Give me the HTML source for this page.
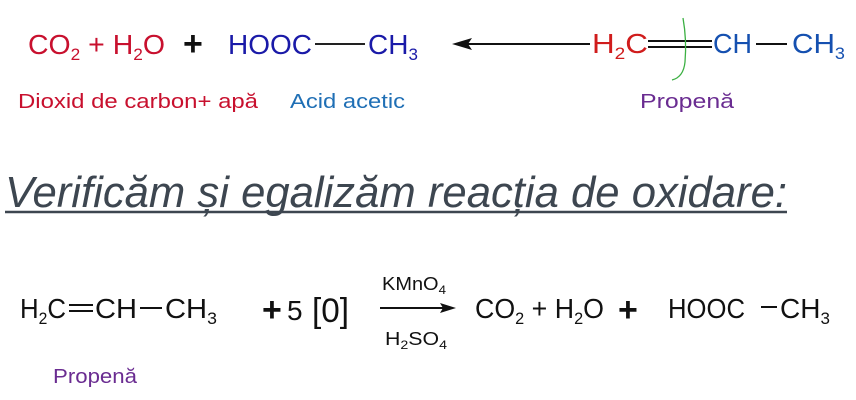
<!DOCTYPE html>
<html><head><meta charset="utf-8"><style>
html,body{margin:0;padding:0;background:#fff;}
svg{display:block;}
text{font-family:"Liberation Sans",sans-serif;}
.sub{font-size:17px;}
</style></head><body>
<svg width="856" height="400" viewBox="0 0 856 400" xmlns="http://www.w3.org/2000/svg">
<rect width="856" height="400" fill="#fff"/>
<!-- Top row -->
<text x="28" y="54" font-size="28" fill="#c8102e" textLength="137" lengthAdjust="spacingAndGlyphs">CO<tspan class="sub" dy="6">2</tspan><tspan dy="-6"> + H</tspan><tspan class="sub" dy="6">2</tspan><tspan dy="-6">O</tspan></text>
<text x="183" y="55" font-size="34" font-weight="bold" fill="#111">+</text>
<text x="228" y="54" font-size="28" fill="#1a1aa8" textLength="84" lengthAdjust="spacingAndGlyphs">HOOC</text>
<line x1="315" y1="44" x2="365" y2="44" stroke="#222" stroke-width="2"/>
<text x="368" y="54" font-size="28" fill="#1a1aa8">CH<tspan class="sub" dy="6">3</tspan></text>
<line x1="462" y1="44" x2="590" y2="44" stroke="#111" stroke-width="2"/>
<polygon points="452,44 472,38 468,44 472,50" fill="#111"/>
<text x="592" y="53" font-size="28" fill="#d01c1c" textLength="56" lengthAdjust="spacingAndGlyphs">H<tspan class="sub" dy="6">2</tspan><tspan dy="-6">C</tspan></text>
<line x1="648" y1="41" x2="712" y2="41" stroke="#111" stroke-width="2"/>
<line x1="648" y1="47" x2="712" y2="47" stroke="#111" stroke-width="2"/>
<path d="M683,18 C686,35 686,50 685,62 C684,72 680,78 672,80" fill="none" stroke="#3cb043" stroke-width="1.3"/>
<text x="713" y="53" font-size="28" fill="#1550b0" textLength="39" lengthAdjust="spacingAndGlyphs">CH</text>
<line x1="756" y1="44" x2="787" y2="44" stroke="#111" stroke-width="2"/>
<text x="792" y="53" font-size="28" fill="#1550b0" textLength="53" lengthAdjust="spacingAndGlyphs">CH<tspan class="sub" dy="6">3</tspan></text>
<!-- labels -->
<text x="18" y="108" font-size="20" fill="#c8102e" textLength="240" lengthAdjust="spacingAndGlyphs">Dioxid de carbon+ apă</text>
<text x="290" y="108" font-size="20" fill="#1f6fb5" textLength="115" lengthAdjust="spacingAndGlyphs">Acid acetic</text>
<text x="640" y="108" font-size="20" fill="#6a2c91" textLength="94" lengthAdjust="spacingAndGlyphs">Propenă</text>
<!-- heading -->
<text x="5" y="207" font-size="44" font-style="italic" fill="#3d4650" textLength="782" lengthAdjust="spacingAndGlyphs">Verificăm și egalizăm reacția de oxidare:</text>
<line x1="5" y1="212" x2="787" y2="212" stroke="#3d4650" stroke-width="2.5"/>
<!-- bottom row -->
<g font-size="28" fill="#111">
<text x="20" y="318" textLength="46" lengthAdjust="spacingAndGlyphs">H<tspan class="sub" dy="6">2</tspan><tspan dy="-6">C</tspan></text>
<line x1="69" y1="305" x2="93" y2="305" stroke="#111" stroke-width="2"/>
<line x1="69" y1="311" x2="93" y2="311" stroke="#111" stroke-width="2"/>
<text x="95" y="318" textLength="42" lengthAdjust="spacingAndGlyphs">CH</text>
<line x1="140" y1="308" x2="162" y2="308" stroke="#111" stroke-width="2"/>
<text x="165" y="318" textLength="52" lengthAdjust="spacingAndGlyphs">CH<tspan class="sub" dy="6">3</tspan></text>
<text x="262" y="321" font-size="34" font-weight="bold">+</text>
<text x="287" y="320" font-size="28">5</text>
<text x="312" y="322" font-size="34" textLength="37" lengthAdjust="spacingAndGlyphs">[0]</text>
<text x="382" y="290" font-size="18" textLength="64" lengthAdjust="spacingAndGlyphs">KMnO<tspan font-size="12" dy="4">4</tspan></text>
<line x1="380" y1="308" x2="445" y2="308" stroke="#111" stroke-width="2"/>
<polygon points="456,308 440,303 443,308 440,313" fill="#111"/>
<text x="385" y="345" font-size="18" textLength="62" lengthAdjust="spacingAndGlyphs">H<tspan font-size="12" dy="4">2</tspan><tspan dy="-4">SO</tspan><tspan font-size="12" dy="4">4</tspan></text>
<text x="475" y="318" textLength="129" lengthAdjust="spacingAndGlyphs">CO<tspan class="sub" dy="6">2</tspan><tspan dy="-6"> + H</tspan><tspan class="sub" dy="6">2</tspan><tspan dy="-6">O</tspan></text>
<text x="618" y="321" font-size="34" font-weight="bold">+</text>
<text x="668" y="318" textLength="77" lengthAdjust="spacingAndGlyphs">HOOC</text>
<line x1="761" y1="307" x2="777" y2="307" stroke="#111" stroke-width="2"/>
<text x="780" y="318">CH<tspan class="sub" dy="6">3</tspan></text>
</g>
<text x="53" y="383" font-size="20" fill="#6a2c91" textLength="84" lengthAdjust="spacingAndGlyphs">Propenă</text>
</svg>
</body></html>
